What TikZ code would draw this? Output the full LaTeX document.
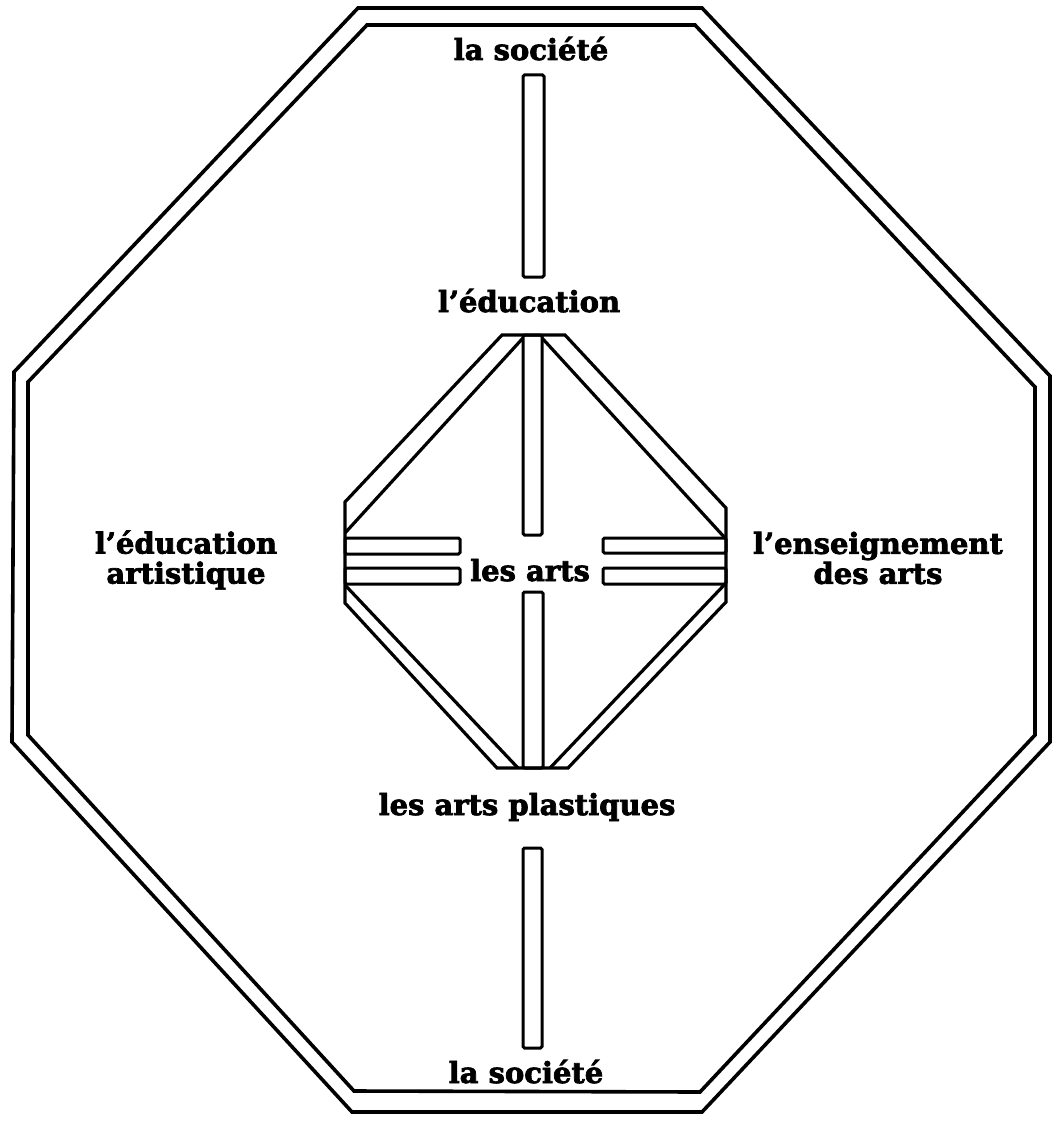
\documentclass[tikz,border=0pt]{standalone}
\usepackage{fontspec}
\setmainfont[BoldFeatures={FakeBold=2.5}]{DejaVu Serif}
\begin{document}
\begin{tikzpicture}[x=1pt,y=-1pt,
  frame/.style={line width=3.6pt, line join=miter},
  band/.style={line width=3.2pt, line join=miter},
  bar/.style={line width=3pt, rounded corners=1.5pt},
  lbl/.style={font=\bfseries\fontsize{29}{30}\selectfont, inner sep=0pt, align=center}]
\useasboundingbox[fill=white] (0,0) rectangle (1054,1121);

% double octagonal frame
\draw[frame] (358,8) -- (702,8) -- (1050,376) -- (1050,742) -- (702,1112)
  -- (352,1112) -- (12,742) -- (14,372) -- cycle;
\draw[frame] (367,25) -- (695,25) -- (1035,387) -- (1035,735) -- (700,1092)
  -- (354,1091) -- (28,735) -- (28,382) -- cycle;

% central octagon with its diagonal bands
\draw[band] (502,335) -- (565,335) -- (726,508) -- (726,602) -- (568,768)
  -- (497,768) -- (345,603) -- (345,502) -- cycle;
\draw[band] (523,338) -- (345,533);
\draw[band] (542,338) -- (726,539);
\draw[band] (345,585) -- (518,768);
\draw[band] (726,583) -- (550,768);

% bars
\draw[bar] (523,75) rectangle (544,277);
\draw[bar] (523,335) rectangle (542,535);
\draw[bar] (523,592) rectangle (543,768);
\draw[bar] (523,848) rectangle (542,1048);
\draw[bar] (345,538) rectangle (460,554);
\draw[bar] (345,568) rectangle (460,584);
\draw[bar] (603,538) rectangle (726,553);
\draw[bar] (603,568) rectangle (726,584);

% labels
\node[lbl, anchor=base] (soctop) at (531,60) {la société};
\node[lbl, anchor=base] (educ) at (529,312) {l'éducation};
\node[lbl, anchor=base] (arts) at (530,581) {les arts};
\node[lbl, anchor=base] (plast) at (527,815) {les arts plastiques};
\node[lbl, anchor=base] (socbot) at (526,1083) {la société};
\node[lbl] (eduart) at (186,560) {l'éducation\\artistique};
\node[lbl] (ensart) at (878,558) {l'enseignement\\des arts};
\end{tikzpicture}
\end{document}
